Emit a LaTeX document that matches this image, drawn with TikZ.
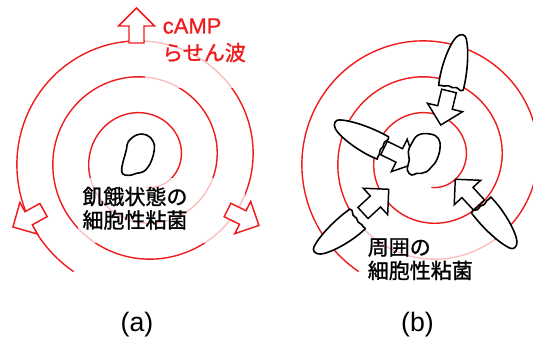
\documentclass[tikz,border=0pt]{standalone}
\usepackage{fontspec}
\setmainfont{Liberation Sans}
\newfontfamily\jpfont{Noto Sans CJK JP}[FakeBold=1.2]
\newfontfamily\latinbold{Liberation Sans}[FakeBold=0.8]
\usepackage{xcolor}
\usetikzlibrary{positioning}

\definecolor{wavered}{RGB}{238,28,28}

\tikzset{
    spiral/.style={draw=wavered, line width=1.05pt},
    textbox/.style={fill=white, fill opacity=0.72},
    jptext/.style={font=\jpfont\fontsize{15.75}{18.4}\selectfont, inner sep=0pt},
    redarrow/.style={draw=wavered, fill=white},
    blackarrow/.style={draw=black, fill=white},
    cellbody/.style={draw=black, fill=white},
    cellline/.style={draw=black, fill=white, line width=1.2pt},
    pics/flowarrow/.style={code={
        \draw[pic actions, line width=1.1pt, line join=miter]
            (0,-7.5) -- (17,-7.5) -- (17,-18) -- (35,0) -- (17,18) -- (17,7.5) -- (0,7.5) -- cycle;
    }},
    pics/moldcell/.style={code={
        \draw[pic actions, line width=1.2pt, line join=round]
            (54,13) .. controls (34,15) and (10,10) .. (3,5)
            .. controls (-1.5,2) and (-1.5,-3.5) .. (3,-5)
            .. controls (13,-9.5) and (34,-13) .. (54,-12)
            .. controls (57,-8.5) and (51,-6.5) .. (53,-3)
            .. controls (55,0) and (51,2) .. (53,5.5)
            .. controls (55,9) and (52,11) .. (54,13) -- cycle;
    }},
}

\begin{document}
\begin{tikzpicture}[x=0.75pt, y=-0.75pt]

    % =================================================================
    % 1. FRAME (533 x 339 px, y pointing down)
    % =================================================================
    \useasboundingbox (0,0) rectangle (533,339);
    \clip (0,0) rectangle (533,339);

    % =================================================================
    % 2. cAMP SPIRAL WAVES (same spiral in both panels)
    % =================================================================
    \foreach \cx in {144,429} {
        \draw[spiral] plot[domain=-85:958, samples=420, variable=\t]
            ({\cx+(37+0.1*\t)*cos(\t)}, {159-(37+0.1*\t)*sin(\t)});
    }

    % text boxes lighten the waves behind the labels
    \fill[textbox] (145,10) rectangle (255,88);
    \fill[textbox] (78,178) rectangle (245,243);
    \fill[textbox] (360,228) rectangle (495,290);

    % =================================================================
    % 3. LABELS
    % =================================================================
    \node[font=\latinbold\fontsize{16.5}{18}\selectfont, text=wavered, inner sep=0pt, anchor=base west]
        (camp) at (162.5,33.5) {cAMP};
    \node[jptext, text=wavered, anchor=base west] (wave) at (162,60.5) {らせん波};

    \node[jptext] (starved) at (135,196.5) {飢餓状態の};
    \node[jptext, below=2.6pt of starved] (moldA) {細胞性粘菌};

    \node[jptext, anchor=west] (around) at (367.5,247.5) {周囲の};
    \node[jptext, below=2.6pt of around.south west, anchor=north west] (moldB) {細胞性粘菌};

    \node[font=\fontsize{20}{24}\selectfont] (panelA) at (137,325) {(a)};
    \node[font=\fontsize{20}{24}\selectfont] (panelB) at (417.5,325) {(b)};

    % =================================================================
    % 4. (a) WAVES SPREADING OUTWARD
    % =================================================================
    \pic[redarrow, rotate=90] at (136.5,43) {flowarrow};
    \pic[redarrow, rotate=-150.9] at (43.5,210) {flowarrow};
    \pic[redarrow, rotate=-26.2] at (227.5,210) {flowarrow};

    % starving cell in the middle
    \draw[cellline] plot[smooth cycle, tension=0.7] coordinates {
        (128.3,141.7) (136.7,135) (146.7,135) (153.3,141.7) (154.3,150)
        (151.7,160) (148.3,166.7) (143.3,171.7) (136.7,173.3) (131.7,175)
        (125,175) (121.7,171.7) (122.7,163.3) (125,155) (126.7,148.3)};

    % =================================================================
    % 5. (b) SURROUNDING CELLS MOVING IN
    % =================================================================
    \pic[blackarrow, rotate=-103.6] at (449,91) {flowarrow};
    \pic[blackarrow, rotate=-26] at (384,148) {flowarrow};
    \pic[blackarrow, rotate=42.7] at (363,213) {flowarrow};
    \pic[blackarrow, rotate=132.7] at (479,205) {flowarrow};

    \pic[cellbody, rotate=-101.3] at (462,35) {moldcell};
    \pic[cellbody, rotate=-27] at (335,123) {moldcell};
    \pic[cellbody, rotate=38.4] at (315,252) {moldcell};
    \pic[cellbody, rotate=129.4] at (515,247) {moldcell};

    \draw[cellline] plot[smooth cycle, tension=0.7] coordinates {
        (418.3,135) (430,134) (438.3,138.3) (440,148.3) (436.7,160)
        (431.7,166.7) (426.7,171.7) (421.7,173.3) (416.7,173.3) (411.7,175)
        (407.3,170) (409.3,160) (408.3,151.7) (411.7,143.3)};

\end{tikzpicture}
\end{document}
